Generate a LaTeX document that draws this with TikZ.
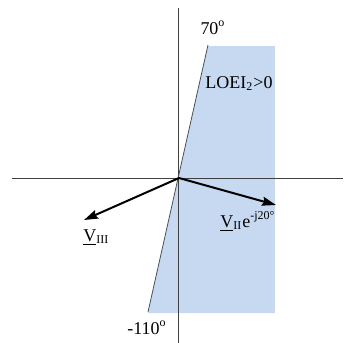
\documentclass[tikz,border=0pt]{standalone}
\usepackage{fontspec}
\setmainfont{Liberation Serif}
\usetikzlibrary{arrows.meta}
\definecolor{regionblue}{RGB}{198,217,240}

\begin{document}
\begin{tikzpicture}[
    x=0.5pt, y=-0.5pt,
    >={Stealth[length=7pt,width=4.5pt,inset=1pt]},
    every node/.style={font=\fontsize{9}{11}\selectfont, inner sep=0pt},
    axis/.style={draw=black!75, line width=0.5pt},
    phasor/.style={->, line width=1pt}
]
\useasboundingbox (0,0) rectangle (344,343);

% ========== region LOEI2>0 ==========
\fill[regionblue] (148,313) -- (208,46) -- (275,46) -- (275,313) -- cycle;

% ========== axes ==========
\coordinate (O) at (179,178);
\coordinate (xl) at (12,178);
\coordinate (xr) at (343,178);
\coordinate (yt) at (179,8);
\coordinate (yb) at (179,343);
\draw[axis] (xl) -- (xr);
\draw[axis] (yt) -- (yb);

% ========== boundary line 70 / -110 ==========
\coordinate (bt) at (208,45);
\coordinate (bb) at (148,312);
\draw[black!70, line width=0.4pt] (bb) -- (bt);

\node[anchor=base] (t70) at (213,34) {70\textsuperscript{o}};
\node[anchor=base] (t110) at (147,334) {-110\textsuperscript{o}};
\node[anchor=base] (loei) at (239,88) {LOEI\textsubscript{2}>0};

% ========== phasors ==========
\coordinate (v3) at (84,220);
\coordinate (v2) at (276,205);
\draw[phasor] (O) -- (v3);
\draw[phasor] (O) -- (v2);

\node[anchor=base west] (lv3) at (83,241) {\underline{V}\textsubscript{III}};
\node[anchor=base west] (lv2) at (220,227) {\underline{V}\textsubscript{II}e\textsuperscript{-j20°}};

\end{tikzpicture}
\end{document}
